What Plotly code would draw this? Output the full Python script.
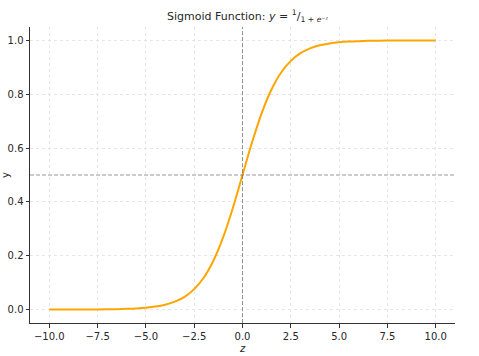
import plotly.graph_objects as go

z_values = [-10.0, -9.5, -9.0, -8.5, -8.0, -7.5, -7.0, -6.5, -6.0, -5.5, -5.0, -4.5, -4.0, -3.5,
            -3.0, -2.5, -2.0, -1.5, -1.0, -0.5, 0.0, 0.5, 1.0, 1.5, 2.0, 2.5, 3.0, 3.5, 4.0,
            4.5, 5.0, 5.5, 6.0, 6.5, 7.0, 7.5, 8.0, 8.5, 9.0, 9.5, 10.0]
y_values = [0.00005, 0.00007, 0.00012, 0.0002, 0.00034, 0.00055, 0.0009, 0.0015, 0.0025, 0.0041,
            0.0067, 0.011, 0.018, 0.0293, 0.0474, 0.0759, 0.1192, 0.1824, 0.2689, 0.3775, 0.5,
            0.6225, 0.7311, 0.8176, 0.8808, 0.9241, 0.9526, 0.9707, 0.982, 0.989, 0.9933, 0.9959,
            0.9975, 0.9985, 0.9991, 0.99945, 0.99966, 0.9998, 0.99988, 0.99993, 0.99995]
x_ticks = [-10.0, -7.5, -5.0, -2.5, 0.0, 2.5, 5.0, 7.5, 10.0]
x_tick_labels = ["\u221210.0", "\u22127.5", "\u22125.0", "\u22122.5", "0.0", "2.5", "5.0", "7.5", "10.0"]
y_ticks = [0.0, 0.2, 0.4, 0.6, 0.8, 1.0]
y_tick_labels = ["0.0", "0.2", "0.4", "0.6", "0.8", "1.0"]
threshold_y = 0.5
threshold_z = 0.0

fig = go.Figure()
fig.add_trace(go.Scatter(x=z_values, y=y_values, mode="lines", line=dict(color="#FFA500", width=2, shape="spline"),
                         showlegend=False))

fig.add_hline(y=threshold_y, line=dict(color="#6a6a6a", width=0.7, dash="4px,2px"))
fig.add_vline(x=threshold_z, line=dict(color="#6a6a6a", width=0.7, dash="4px,2px"))

axis_common = dict(showline=True, linecolor="#333333", linewidth=1, ticks="outside", ticklen=3.5,
                   tickcolor="#333333", tickwidth=0.8, showgrid=True, gridcolor="#e6e6e6", gridwidth=0.6,
                   griddash="dot", zeroline=False, mirror=False, automargin=False,
                   tickfont=dict(family="DejaVu Sans", size=10, color="#262626"))

fig.update_xaxes(range=[-11, 11], tickvals=x_ticks, ticktext=x_tick_labels,
                 title=dict(text="<i>z</i>", font=dict(family="DejaVu Sans", size=10, color="#262626"), standoff=4),
                 **axis_common)
fig.update_yaxes(range=[-0.05, 1.05], tickvals=y_ticks, ticktext=y_tick_labels,
                 title=dict(text="y", font=dict(family="DejaVu Sans", size=10, color="#262626"), standoff=6),
                 **axis_common)

fig.update_layout(
    width=479, height=356,
    margin=dict(l=30, r=24, t=27, b=33),
    plot_bgcolor="white", paper_bgcolor="white",
    title=dict(text="Sigmoid Function: <i>y</i> = <sup>1</sup>/<sub>1 + <i>e</i>\u207b\u1dbb</sub>",
               x=0.517, xanchor="center", y=0.955, yanchor="middle",
               font=dict(family="DejaVu Sans", size=11, color="#262626")),
)

fig.write_html("out.html", config={"displayModeBar": False},
               post_script="document.body.style.margin='0';document.body.style.overflow='hidden';")
